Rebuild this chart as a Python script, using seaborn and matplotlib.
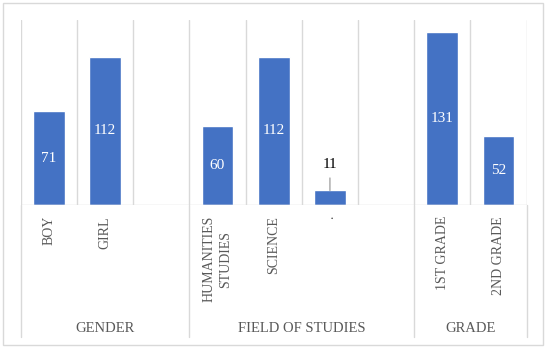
import pandas as pd
import matplotlib
matplotlib.use('Agg')
import matplotlib.pyplot as plt
import matplotlib.transforms as mtransforms
from matplotlib.patches import Rectangle
import seaborn as sns

# data
categories = ["BOY", "GIRL", "HUMANITIES\nSTUDIES", "SCIENCE", ".", "1ST GRADE", "2ND GRADE"]
counts = [71, 112, 60, 112, 11, 131, 52]
groups = ["GENDER", "FIELD OF STUDIES", "GRADE"]
# slot order on the axis, blank slots keep the gaps between groups
slot_order = ["BOY", "GIRL", " ", "HUMANITIES\nSTUDIES", "SCIENCE", ".", "  ", "1ST GRADE", "2ND GRADE"]
group_slots = [(0, 2), (3, 6), (7, 8)]

bar_color = "#4472C4"
grid_color = "#D9D9D9"
text_color = "#595959"

sns.set_theme(style="white")
plt.rcParams['font.family'] = ['Liberation Serif', 'DejaVu Serif']

df = pd.DataFrame({"category": categories, "count": counts})

fig = plt.figure(figsize=(5.5, 3.53), dpi=100)
ax = fig.add_axes([20.7 / 550, 1 - 205 / 353, 506 / 550, 185 / 353])

sns.barplot(data=df, x="category", y="count", order=slot_order, color=bar_color,
            saturation=1, width=0.565, ax=ax)

ax.set_xlim(-0.5, len(slot_order) - 0.5)
ax.set_ylim(0, 140)
ax.set_xlabel("")
ax.set_ylabel("")
ax.set_yticks([])
for s in ax.spines.values():
    s.set_visible(False)

# vertical separators between slots
for i in range(len(slot_order) + 1):
    ax.axvline(i - 0.5, color=grid_color, lw=1, zorder=0)
ax.axhline(0, color=grid_color, lw=1, zorder=3)

# group separators run down into the label area
trans = mtransforms.blended_transform_factory(ax.transData, ax.transAxes)
bounds = sorted(set([a - 0.5 for a, b in group_slots] + [b + 0.5 for a, b in group_slots]))
for xb in bounds:
    ax.plot([xb, xb], [0, -0.712], color=grid_color, lw=1, transform=trans, clip_on=False)

for (a, b), name in zip(group_slots, groups):
    ax.text((a + b) / 2, -0.665, name, transform=trans, ha="center", va="center",
            fontsize=10.5, color=text_color)

ax.tick_params(axis="x", length=0, pad=8, labelsize=10, labelcolor=text_color)
plt.setp(ax.get_xticklabels(), rotation=90, multialignment="center", linespacing=1.4)

# value labels: white inside the bars, small bar gets an outside label with a leader
cont = ax.containers[0]
labels = []
for c, v in zip(categories, counts):
    labels.append("" if v < 20 else str(v))
ax.bar_label(cont, labels=labels, label_type="center", color="white", fontsize=11)

for c, v in zip(categories, counts):
    if v < 20:
        xi = slot_order.index(c)
        ax.annotate(str(v), xy=(xi, v), xytext=(0, 19), textcoords="offset points",
                    ha="center", va="center", fontsize=11, color="black",
                    arrowprops=dict(arrowstyle="-", color="#A6A6A6", lw=1,
                                    shrinkA=3, shrinkB=0))

# light frame around the whole chart
fig.patches.append(Rectangle((3 / 550, 8 / 353), 540 / 550, 342 / 353, transform=fig.transFigure,
                             fill=False, edgecolor=grid_color, lw=1))

plt.savefig("out.png", dpi=100)
